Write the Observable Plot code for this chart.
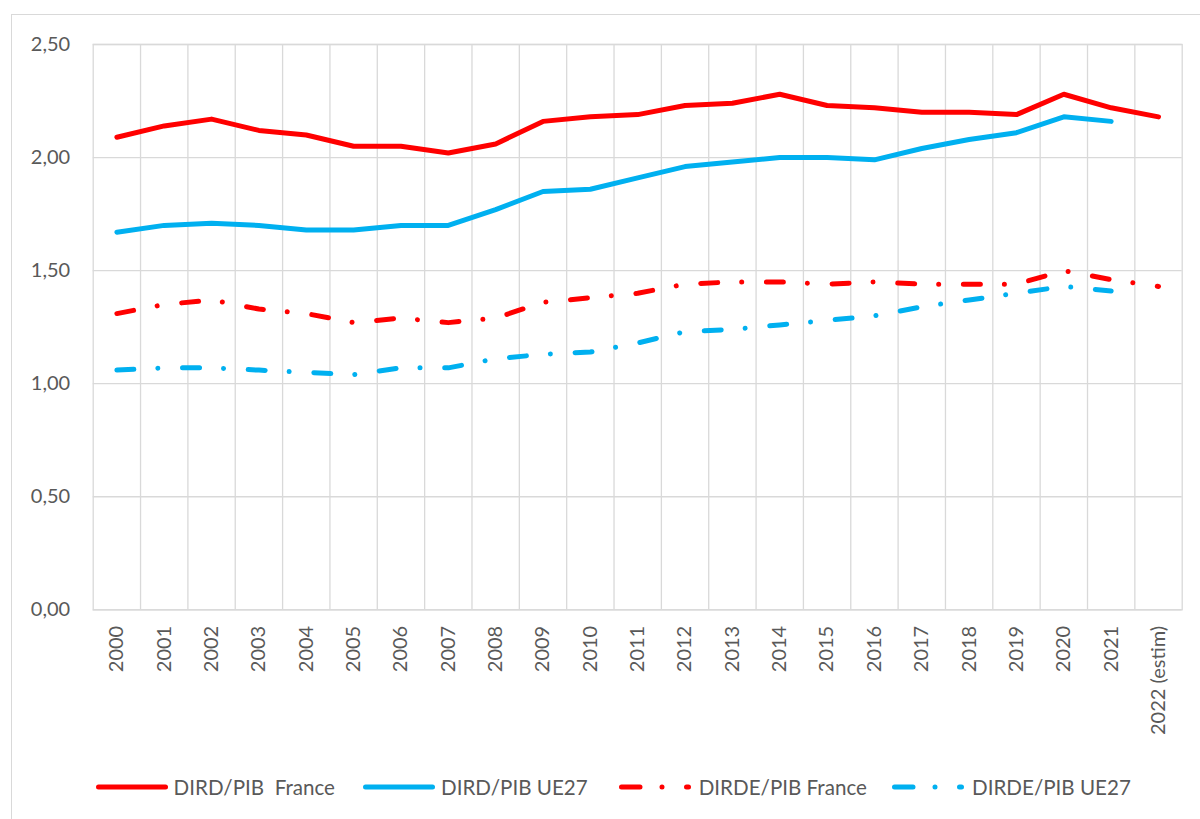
<!DOCTYPE html>
<html><head><meta charset="utf-8">
<script src="https://cdn.jsdelivr.net/npm/d3@7"></script>
<script src="https://cdn.jsdelivr.net/npm/@observablehq/plot@0.6"></script>
<style>
body{margin:0;background:#fff;font-family:Lato,"Open Sans",sans-serif;}
#wrap{position:relative;width:1200px;height:819px;overflow:hidden;background:#fff;}
#border{position:absolute;left:10.5px;top:14px;width:1300px;height:900px;border-left:1.2px solid #d9d9d9;border-top:1.2px solid #d9d9d9;}
#chart{position:absolute;left:0;top:0;}
.sym{position:absolute;top:776px;height:22px;}
.txt{position:absolute;top:776px;height:22px;line-height:22px;font-size:20.6px;color:#595959;white-space:pre;font-family:Lato,sans-serif;}
</style></head><body>
<div id="wrap"><div id="border"></div><div id="chart"></div><div id="legend"></div></div>
<script>
// ---- data ----
const categories = ["2000","2001","2002","2003","2004","2005","2006","2007","2008","2009","2010","2011","2012","2013","2014","2015","2016","2017","2018","2019","2020","2021","2022 (estim)"];
const dirdFrance  = [2.09,2.14,2.17,2.12,2.10,2.05,2.05,2.02,2.06,2.16,2.18,2.19,2.23,2.24,2.28,2.23,2.22,2.20,2.20,2.19,2.28,2.22,2.18];
const dirdUE27    = [1.67,1.70,1.71,1.70,1.68,1.68,1.70,1.70,1.77,1.85,1.86,1.91,1.96,1.98,2.00,2.00,1.99,2.04,2.08,2.11,2.18,2.16,null];
const dirdeFrance = [1.31,1.35,1.37,1.33,1.31,1.27,1.29,1.27,1.29,1.36,1.38,1.40,1.44,1.45,1.45,1.44,1.45,1.44,1.44,1.44,1.50,1.46,1.43];
const dirdeUE27   = [1.06,1.07,1.07,1.06,1.05,1.04,1.07,1.07,1.11,1.13,1.14,1.18,1.23,1.24,1.26,1.28,1.30,1.34,1.37,1.40,1.43,1.41,null];
const seriesNames = ["DIRD/PIB  France","DIRD/PIB UE27","DIRDE/PIB France","DIRDE/PIB UE27"];
const yTicks = [0,0.5,1,1.5,2,2.5];

// ---- styles ----
const RED = "#ff0000", BLUE = "#00b0f0", GRID = "#d9d9d9", TXT = "#595959";
const seriesValues = [dirdFrance, dirdUE27, dirdeFrance, dirdeUE27];
const seriesColors = [RED, BLUE, RED, BLUE];
const DASH = "17,24,0.01,24.7";
const seriesDash = [null, null, DASH, DASH];

const W = 1200, H = 760, mL = 92.7, mR = 18.3, mT = 44, mB = 150.7;
const bw = (W - mL - mR) / categories.length;

const lineMarks = seriesValues.map((vals, k) => Plot.line(categories, {
  x: d => d,
  y: (d, i) => vals[i],
  stroke: seriesColors[k],
  strokeWidth: 5,
  strokeLinecap: "round",
  strokeLinejoin: "round",
  strokeDasharray: seriesDash[k] || undefined
}));

const plot = Plot.plot({
  width: W, height: H,
  marginLeft: mL, marginRight: mR, marginTop: mT, marginBottom: mB,
  style: {fontFamily: "Lato, sans-serif", fontSize: "20px", color: TXT, background: "transparent", overflow: "visible"},
  x: {type: "band", domain: categories, padding: 0, round: false, label: null},
  y: {domain: [0, 2.5], label: null},
  marks: [
    Plot.ruleY(yTicks, {stroke: GRID, strokeWidth: 1.3}),
    Plot.ruleX(categories.slice(1), {x: d => d, dx: -bw / 2, stroke: GRID, strokeWidth: 1.3}),
    Plot.frame({stroke: GRID, strokeWidth: 1.3}),
    Plot.axisY({ticks: yTicks, tickSize: 0, tickPadding: 23, tickFormat: d => d.toFixed(2).replace(".", ","), fill: TXT, fontSize: 20, label: null}),
    Plot.axisX({tickRotate: -90, tickSize: 0, tickPadding: 16, fill: TXT, fontSize: 20, label: null}),
    ...lineMarks
  ]
});
document.getElementById("chart").appendChild(plot);

// ---- legend ----
const symLeft = [96, 363, 619, 891.5];
const txtLeft = [173.6, 441, 698.7, 972];
const legDash = "18.5,22,0.01,24.5";
const leg = document.getElementById("legend");
seriesNames.forEach((name, k) => {
  const ns = "http://www.w3.org/2000/svg";
  const svg = document.createElementNS(ns, "svg");
  svg.setAttribute("width", 72); svg.setAttribute("height", 22);
  svg.setAttribute("class", "sym");
  svg.style.left = (symLeft[k]) + "px";
  const ln = document.createElementNS(ns, "line");
  ln.setAttribute("x1", 2.5); ln.setAttribute("x2", 69.5);
  ln.setAttribute("y1", 11); ln.setAttribute("y2", 11);
  ln.setAttribute("stroke", seriesColors[k]);
  ln.setAttribute("stroke-width", 5);
  ln.setAttribute("stroke-linecap", "round");
  if (seriesDash[k]) ln.setAttribute("stroke-dasharray", legDash);
  svg.appendChild(ln);
  leg.appendChild(svg);
  const t = document.createElement("div");
  t.className = "txt"; t.style.left = txtLeft[k] + "px";
  t.textContent = name;
  leg.appendChild(t);
});
</script>
</body></html>
